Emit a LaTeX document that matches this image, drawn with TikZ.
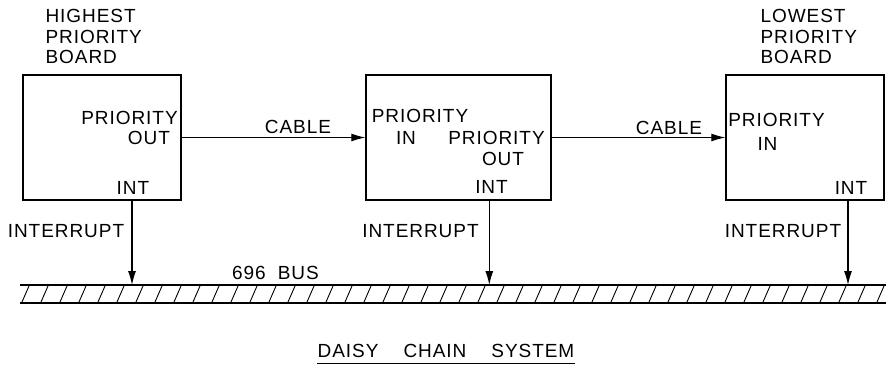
\documentclass[tikz,border=0pt]{standalone}
\usepackage{fontspec}
\setmainfont{Liberation Sans}[LetterSpace=5]
\usetikzlibrary{arrows.meta}

\begin{document}
\begin{tikzpicture}[x=1pt,y=-1pt,line width=1.1pt,
  board/.style={draw,line width=1.4pt,minimum width=158pt,minimum height=125pt,inner sep=0pt},
  lbl/.style={font=\fontsize{19}{20.5}\selectfont,inner sep=0pt},
  arr/.style={-{Latex[length=14pt,width=8pt]}}]
\useasboundingbox (0,0) rectangle (886,368);
% boards
\node[board] (b1) at (102,137.5) {};
\node[board,minimum width=185pt] (b2) at (458.5,137.5) {};
\node[board] (b3) at (805,137.5) {};
\node[lbl,align=left,anchor=north west] (hi) at (45,9) {HIGHEST\\PRIORITY\\BOARD};
\node[lbl,align=left,anchor=north west] (lo) at (760,9) {LOWEST\\PRIORITY\\BOARD};
% labels inside the boards
\node[lbl] (po1) at (129.5,118) {PRIORITY};
\node[lbl] (out1) at (149,138) {OUT};
\node[lbl] (int1) at (133,187.5) {INT};
\node[lbl] (pi2) at (420,115.5) {PRIORITY};
\node[lbl] (in2) at (406,137.5) {IN};
\node[lbl] (po2) at (496.5,137.5) {PRIORITY};
\node[lbl] (out2) at (503,159) {OUT};
\node[lbl] (int2) at (491.5,186.5) {INT};
\node[lbl] (pi3) at (776.5,120) {PRIORITY};
\node[lbl] (in3) at (767.5,144) {IN};
\node[lbl] (int3) at (851,187.5) {INT};
% cables
\draw[arr] (b1.east) -- (b2.west);
\draw[arr] (b2.east) -- (b3.west);
\node[lbl] (c1) at (298,127) {CABLE};
\node[lbl] (c2) at (669,127.5) {CABLE};
% bus
\coordinate (busl) at (20,285);
\coordinate (busr) at (886,285);
\draw (busl) -- (busr);
\draw ([yshift=-18pt]busl) -- ([yshift=-18pt]busr);
\foreach \x in {22,41,...,880}
  \draw[line width=0.9pt] (\x,302) -- (\x+7,286);
\node[lbl] (bus) at (275.5,272.5) {696\hspace{12pt}BUS};
% interrupts
\coordinate (i1) at (132,285);
\coordinate (i2) at (489.3,285);
\coordinate (i3) at (848,285);
\draw[arr] (b1.south -| i1) -- (i1);
\draw[arr] (b2.south -| i2) -- (i2);
\draw[arr] (b3.south -| i3) -- (i3);
\node[lbl] (ir1) at (66,231.5) {INTERRUPT};
\node[lbl] (ir2) at (420.5,231.5) {INTERRUPT};
\node[lbl] (ir3) at (783,231.5) {INTERRUPT};
% title
\node[lbl] (title) at (446,351) {DAISY\hspace{25pt}CHAIN\hspace{25pt}SYSTEM};
\draw ([yshift=-5pt]title.south west) -- ([yshift=-5pt]title.south east);
\end{tikzpicture}
\end{document}
